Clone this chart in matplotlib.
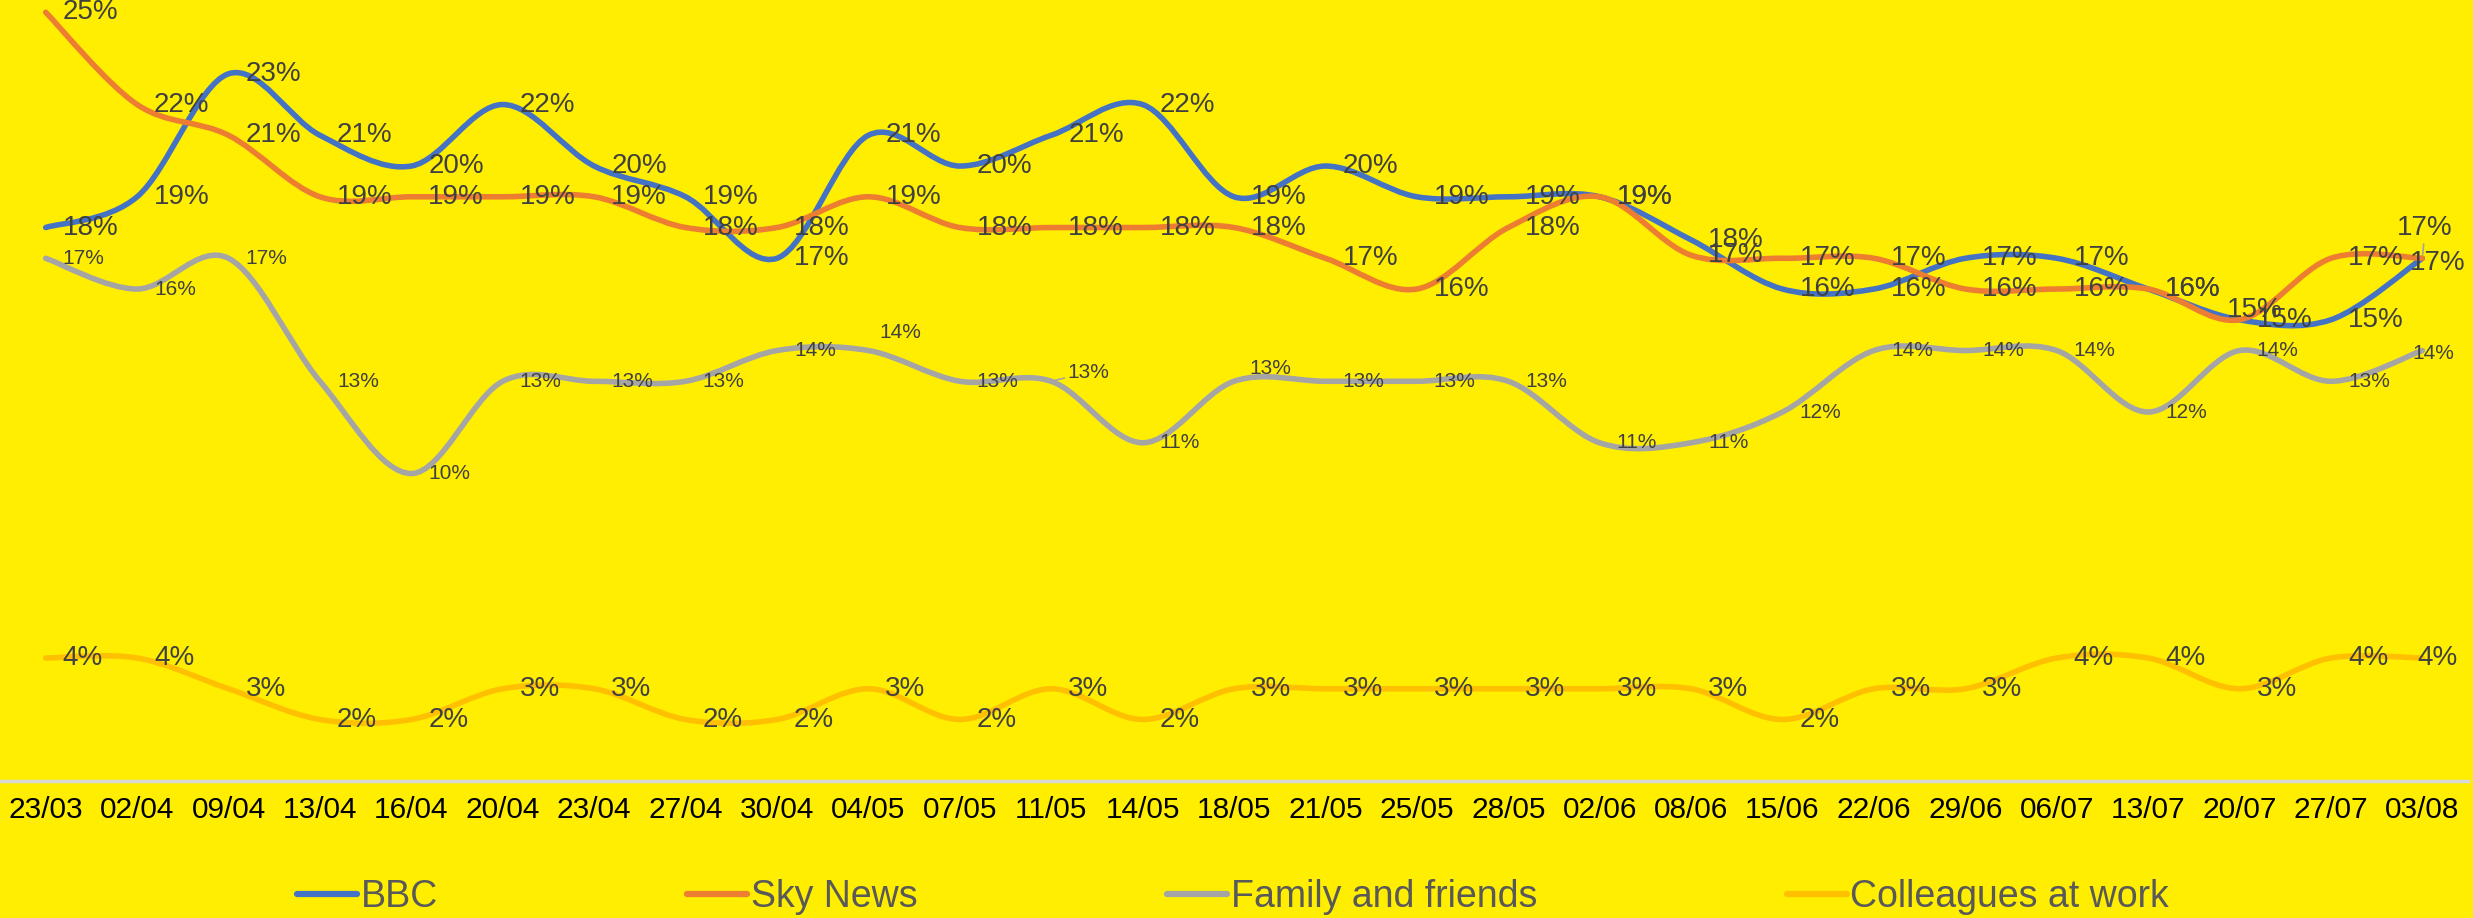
import numpy as np
import matplotlib.pyplot as plt
from matplotlib.path import Path
from matplotlib.patches import PathPatch
from matplotlib.lines import Line2D

dates = ['23/03', '02/04', '09/04', '13/04', '16/04', '20/04', '23/04', '27/04', '30/04',
         '04/05', '07/05', '11/05', '14/05', '18/05', '21/05', '25/05', '28/05', '02/06',
         '08/06', '15/06', '22/06', '29/06', '06/07', '13/07', '20/07', '27/07', '03/08']
bbc = [18, 19, 23, 21, 20, 22, 20, 19, 17, 21, 20, 21, 22, 19, 20, 19, 19, 19,
       17.6, 16, 16, 17, 17, 16, 15, 15, 17]
sky = [25, 22, 21, 19, 19, 19, 19, 18, 18, 19, 18, 18, 18, 18, 17, 16, 18, 19,
       17.1, 17, 17, 16, 16, 16, 15, 17, 17]
family = [17, 16, 17, 13, 10, 13, 13, 13, 14, 14, 13, 13, 11, 13, 13, 13, 13, 11,
          11, 12, 14, 14, 14, 12, 14, 13, 14]
colleagues = [4, 4, 3, 2, 2, 3, 3, 2, 2, 3, 2, 3, 2, 3, 3, 3, 3, 3,
              3, 2, 3, 3, 4, 4, 3, 4, 4]

names = ['BBC', 'Sky News', 'Family and friends', 'Colleagues at work']
series = [bbc, sky, family, colleagues]
colors = ['#4472C4', '#ED7D31', '#A5A5A5', '#FFC000']
label_sizes = [20, 20, 15, 20]

# label nudges in pixels (dx, dy up) where the default right placement was moved
nudges = {(2, 9): (11, 18), (2, 11): (16, 9), (2, 13): (15, 13), (2, 26): (-10, -3),
          (0, 26): (-25, 30), (1, 26): (-12, -5), (3, 26): (-5, 0), (1, 24): (-13, 10)}
leaders = {(2, 11), (2, 13), (0, 26)}

bg = '#FFEE00'
plt.rcParams['font.family'] = ['Liberation Sans', 'DejaVu Sans']

fig = plt.figure(figsize=(24.73, 9.18), dpi=100, facecolor=bg)
ax = fig.add_axes([0.0, 1 - 781 / 918, 0.998, 781 / 918])
ax.set_facecolor(bg)

x = np.arange(len(dates))


def smooth_path(xs, ys):
    pts = np.column_stack([xs, ys]).astype(float)
    ext = np.vstack([pts[0], pts, pts[-1]])
    verts = [pts[0]]
    codes = [Path.MOVETO]
    for i in range(len(pts) - 1):
        p0, p1, p2, p3 = ext[i], ext[i + 1], ext[i + 2], ext[i + 3]
        verts += [p1 + (p2 - p0) / 6, p2 - (p3 - p1) / 6, p2]
        codes += [Path.CURVE4] * 3
    return Path(verts, codes)


for k, (vals, c) in enumerate(zip(series, colors)):
    ax.add_patch(PathPatch(smooth_path(x, vals), fill=False, edgecolor=c, lw=4,
                           capstyle='round', joinstyle='round', zorder=2 + k))

for k, vals in enumerate(series):
    for i, v in enumerate(vals):
        dx, dy = nudges.get((k, i), (17, 0))
        kw = {}
        if (k, i) in leaders:
            kw['arrowprops'] = dict(arrowstyle='-', color='#A5A5A5', lw=1.2,
                                    shrinkA=0, shrinkB=3)
        ax.annotate(f'{round(v)}%', (i, v), xytext=(dx * 0.72, dy * 0.72),
                    textcoords='offset points', ha='left', va='center',
                    fontsize=label_sizes[k], color='#404040', zorder=10, **kw)

ax.set_xlim(-0.5, len(dates) - 0.5)
ax.set_ylim(0, 25.4)
ax.set_xticks(x)
ax.set_xticklabels(dates, fontsize=21.5, color='black')
ax.tick_params(axis='x', length=0, pad=11)
ax.set_yticks([])
for s in ['top', 'left', 'right']:
    ax.spines[s].set_visible(False)
ax.spines['bottom'].set_color('#D9D9D9')
ax.spines['bottom'].set_linewidth(2.5)

handles = [Line2D([], [], color=c, lw=4.5, solid_capstyle='round') for c in colors]
leg = fig.legend(handles, names, loc='center', bbox_to_anchor=(0.4986, 1 - 897 / 918),
                 ncol=4, frameon=False, fontsize=27, handlelength=1.6,
                 handletextpad=0.1, columnspacing=6.65)
for t in leg.get_texts():
    t.set_color('#595959')

fig.savefig('out.png', dpi=100, facecolor=bg)
